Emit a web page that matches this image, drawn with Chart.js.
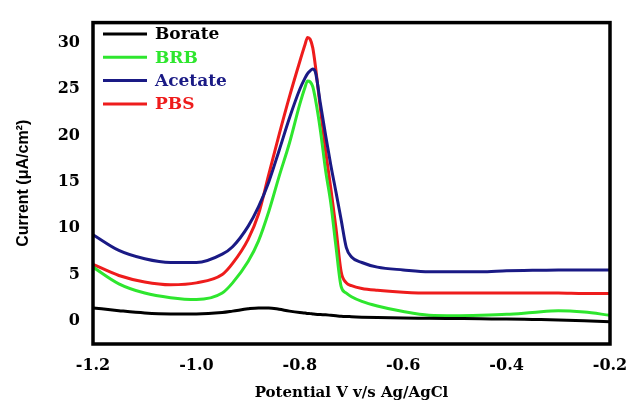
<!DOCTYPE html>
<html>
<head>
<meta charset="utf-8">
<script src="https://cdn.jsdelivr.net/npm/chart.js@4.4.1/dist/chart.umd.min.js"></script>
<style>
  html, body { margin: 0; padding: 0; background: #fff; }
  canvas { display: block; }
</style>
</head>
<body>
<canvas id="dpv-chart" width="630" height="402"></canvas>
<script>
// potential (V vs Ag/AgCl)
const potential = [-1.2, -1.15, -1.1, -1.05, -1.0, -0.95, -0.93, -0.9, -0.88, -0.86, -0.84, -0.82, -0.8, -0.79, -0.785, -0.78, -0.775, -0.77, -0.76, -0.75, -0.74, -0.73, -0.72, -0.71, -0.7, -0.68, -0.65, -0.6, -0.55, -0.5, -0.45, -0.4, -0.35, -0.3, -0.25, -0.2];

// current density (uA/cm2) per buffer
const borate  = [1.4, 1.1, 0.85, 0.75, 0.75, 0.9, 1.05, 1.3, 1.4, 1.4, 1.25, 1.05, 0.9, 0.85, 0.8, 0.78, 0.75, 0.72, 0.68, 0.65, 0.6, 0.55, 0.5, 0.47, 0.45, 0.4, 0.35, 0.3, 0.28, 0.25, 0.22, 0.2, 0.15, 0.1, 0.0, -0.1];
const brb     = [5.8, 4.0, 3.0, 2.5, 2.3, 3.0, 4.1, 6.4, 8.6, 11.8, 15.6, 19.2, 23.4, 25.2, 25.9, 25.8, 25.3, 24.0, 20.5, 16.2, 12.7, 8.0, 3.7, 3.0, 2.6, 2.1, 1.6, 1.0, 0.6, 0.55, 0.6, 0.7, 0.9, 1.1, 0.95, 0.6];
const acetate = [9.3, 7.6, 6.7, 6.3, 6.3, 7.2, 8.0, 10.2, 12.3, 15.0, 18.4, 21.9, 25.0, 26.2, 26.7, 27.0, 27.2, 26.9, 23.4, 20.0, 16.8, 13.9, 10.9, 7.9, 6.9, 6.3, 5.8, 5.5, 5.3, 5.3, 5.3, 5.4, 5.45, 5.5, 5.5, 5.5];
const pbs     = [6.1, 4.9, 4.2, 3.9, 4.1, 5.0, 6.2, 8.8, 11.5, 15.8, 20.1, 24.2, 28.0, 29.8, 30.6, 30.4, 29.5, 27.6, 22.8, 18.3, 14.3, 10.0, 5.3, 4.1, 3.8, 3.5, 3.3, 3.1, 3.0, 3.0, 3.0, 3.0, 3.0, 3.0, 2.95, 2.95];

const seriesNames = ["Borate", "BRB", "Acetate", "PBS"];
const seriesColors = ["#000000", "#2ee62e", "#1a1a85", "#ee1c1c"];

const xTicks = [-1.2, -1.0, -0.8, -0.6, -0.4, -0.2];
const yTicks = [0, 5, 10, 15, 20, 25, 30];

const serif = "'DejaVu Serif', 'Liberation Serif', serif";

function toPoints(values) {
    return values.map((v, i) => ({ x: potential[i], y: v }));
}

const datasets = [borate, brb, acetate, pbs].map((vals, i) => ({
    label: seriesNames[i],
    data: toPoints(vals),
    borderColor: seriesColors[i],
    backgroundColor: seriesColors[i],
    borderWidth: 3,
    pointRadius: 0,
    cubicInterpolationMode: 'monotone',
    fill: false
}));

// box frame + in-plot legend
const framePlugin = {
    id: 'frame',
    afterDraw(chart) {
        const { ctx, chartArea } = chart;
        ctx.save();
        ctx.strokeStyle = "#000";
        ctx.lineWidth = 3.5;
        ctx.strokeRect(chartArea.left, chartArea.top, chartArea.right - chartArea.left, chartArea.bottom - chartArea.top);

        ctx.font = "bold 17px " + serif;
        ctx.textBaseline = "middle";
        ctx.textAlign = "left";
        chart.data.datasets.forEach((ds, i) => {
            const y = 34 + i * 23.3;
            ctx.strokeStyle = ds.borderColor;
            ctx.lineWidth = 3;
            ctx.beginPath();
            ctx.moveTo(103, y);
            ctx.lineTo(147, y);
            ctx.stroke();
            ctx.fillStyle = ds.borderColor;
            ctx.fillText(ds.label, 155, y + 1);
        });
        ctx.restore();
    }
};

new Chart(document.getElementById("dpv-chart"), {
    type: 'line',
    data: { datasets },
    options: {
        responsive: false,
        animation: false,
        layout: { padding: { top: 15, right: 20, left: 0, bottom: 0 } },
        plugins: {
            legend: { display: false },
            tooltip: { enabled: false }
        },
        scales: {
            x: {
                type: 'linear',
                min: -1.2,
                max: -0.2,
                grid: { display: false, drawTicks: false },
                border: { display: false },
                afterBuildTicks: (scale) => { scale.ticks = xTicks.map(v => ({ value: v })); },
                afterFit: (scale) => {
                    scale.height = 58;
                    scale.paddingLeft = 0;
                    scale.paddingRight = 0;
                },
                ticks: {
                    padding: 12,
                    color: "#000",
                    font: { family: serif, size: 16, weight: 'bold' },
                    callback: (v) => v.toFixed(1)
                },
                title: {
                    display: true,
                    text: "Potential V v/s Ag/AgCl",
                    color: "#000",
                    font: { family: serif, size: 15, weight: 'bold' },
                    padding: { top: 4, bottom: 0 }
                }
            },
            y: {
                min: -2.5,
                max: 32.2,
                grid: { display: false, drawTicks: false },
                border: { display: false },
                afterBuildTicks: (scale) => { scale.ticks = yTicks.map(v => ({ value: v })); },
                afterFit: (scale) => { scale.width = 93; },
                ticks: {
                    padding: 13,
                    color: "#000",
                    font: { family: serif, size: 16, weight: 'bold' }
                },
                title: {
                    display: true,
                    text: "Current (\u03bcA/cm\u00b2)",
                    color: "#000",
                    font: { family: "'Liberation Sans', Arial, sans-serif", size: 16, weight: 'bold' },
                    padding: { top: 14, bottom: 0 }
                }
            }
        }
    },
    plugins: [framePlugin]
});
</script>
</body>
</html>
